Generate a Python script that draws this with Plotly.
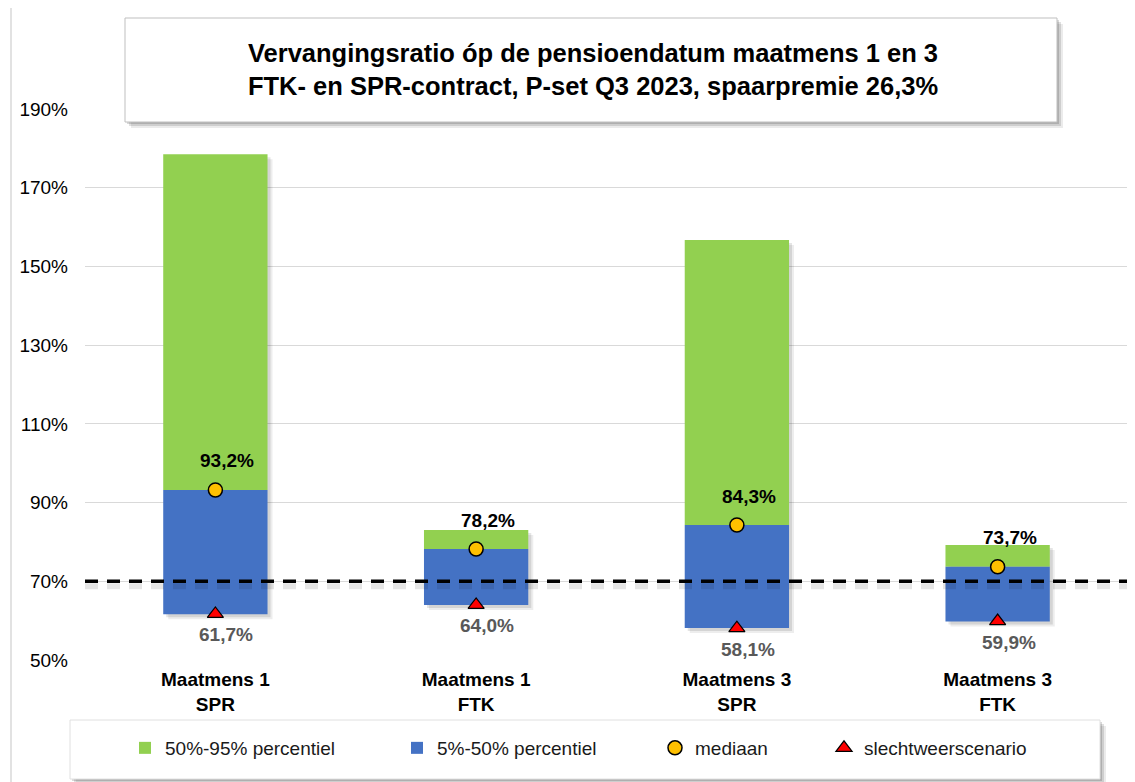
import plotly.graph_objects as go

# ---------------- data ----------------
categories = ["Maatmens 1<br>SPR", "Maatmens 1<br>FTK", "Maatmens 3<br>SPR", "Maatmens 3<br>FTK"]
p5 = [61.6, 64.0, 58.1, 59.8]          # 5% percentiel (bottom of blue)
median = [93.2, 78.2, 84.3, 73.7]      # mediaan
p95 = [178.5, 83.0, 156.7, 79.2]       # 95% percentiel (top of green)
worst = [61.7, 64.0, 58.1, 59.9]       # slechtweerscenario
target = 70.0
y_ticks = [50, 70, 90, 110, 130, 150, 170, 190]

title_text = ("<b>Vervangingsratio óp de pensioendatum maatmens 1 en 3<br>"
              "FTK- en SPR-contract, P-set Q3 2023, spaarpremie 26,3%</b>")

# ---------------- style ----------------
FONT = "Liberation Sans, Arial, sans-serif"
GREEN = "#92D050"
BLUE = "#4472C4"
YELLOW = "#FFC000"
RED = "#FF0000"

OFF = 8                      # page body margin
W, H = 1135, 782
# plot area in page pixels: left 85, top 109, bottom 660, right 1128
L = 85 - OFF
T = 109 - OFF
B = H - (660 - OFF)
R = W - (1128 - OFF)
PW = W - L - R
PH = H - T - B
YMIN, YMAX = 50, 190
PX_PER_UNIT = PH / (YMAX - YMIN)
CAT_PX = PW / 4.0
BW = 0.4


def px_x(px):
    """page x pixel -> paper x"""
    return (px - OFF - L) / PW


def px_y(py):
    """page y pixel -> paper y"""
    return (H - B - (py - OFF)) / PH


fig = go.Figure()

# soft drop shadows for the bars
for dx, dy, a in [(5, 5, 0.07), (3, 3, 0.10)]:
    fig.add_trace(go.Bar(
        x=categories, y=[t - b for t, b in zip(p95, p5)],
        base=[b - dy / PX_PER_UNIT for b in p5],
        width=BW, offset=-BW / 2 + dx / CAT_PX,
        marker=dict(color=f"rgba(0,0,0,{a})", line=dict(width=0)),
        showlegend=False, hoverinfo="skip"))

fig.add_trace(go.Bar(
    x=categories, y=[t - m for t, m in zip(p95, median)], base=median,
    width=BW, offset=-BW / 2, name="50%-95% percentiel",
    marker=dict(color=GREEN, line=dict(width=0)), legend="legend"))

fig.add_trace(go.Bar(
    x=categories, y=[m - b for m, b in zip(median, p5)], base=p5,
    width=BW, offset=-BW / 2, name="5%-50% percentiel",
    marker=dict(color=BLUE, line=dict(width=0)), legend="legend2"))

fig.add_trace(go.Scatter(
    x=categories, y=median, mode="markers", name="mediaan",
    marker=dict(symbol="circle", size=14, color=YELLOW, line=dict(color="#000000", width=1.5)),
    cliponaxis=False, legend="legend3"))

fig.add_trace(go.Scatter(
    x=categories, y=worst, mode="markers", name="slechtweerscenario",
    marker=dict(symbol="triangle-up", size=14, color=RED, line=dict(color="#000000", width=1.2)),
    cliponaxis=False, legend="legend4"))

# data labels
annotations = []
for c, m in zip(categories, median):
    annotations.append(dict(x=c, y=m, xref="x", yref="y", text=f"<b>{m:.1f}%</b>".replace(".", ","),
                            showarrow=False, yshift=29, xshift=12,
                            font=dict(family=FONT, size=19, color="#000000")))
for c, w in zip(categories, worst):
    annotations.append(dict(x=c, y=w, xref="x", yref="y", text=f"<b>{w:.1f}%</b>".replace(".", ","),
                            showarrow=False, yshift=-21, xshift=11,
                            font=dict(family=FONT, size=19, color="#595959")))

shapes = []
# target line shadow + dashed line
shapes.append(dict(type="line", xref="paper", yref="y", x0=0, x1=px_x(1140),
                   y0=target - 5 / PX_PER_UNIT, y1=target - 5 / PX_PER_UNIT,
                   line=dict(color="rgba(0,0,0,0.10)", width=6, dash="13px,9px"), layer="above"))
shapes.append(dict(type="line", xref="paper", yref="y", x0=0, x1=px_x(1140),
                   y0=target, y1=target,
                   line=dict(color="#000000", width=3.5, dash="13px,9px"), layer="above"))
# left chart border
shapes.append(dict(type="line", xref="paper", yref="paper", x0=px_x(11), x1=px_x(11),
                   y0=px_y(OFF), y1=px_y(H + OFF), line=dict(color="#D9D9D9", width=1.5), layer="above"))
# title box with shadow
for d, a in [(6, 0.08), (4, 0.12), (2, 0.15)]:
    shapes.append(dict(type="rect", xref="paper", yref="paper",
                       x0=px_x(125 + d), x1=px_x(1057 + d), y0=px_y(122 + d), y1=px_y(18 + d),
                       fillcolor=f"rgba(0,0,0,{a})", line=dict(width=0), layer="above"))
shapes.append(dict(type="rect", xref="paper", yref="paper",
                   x0=px_x(125), x1=px_x(1057), y0=px_y(122), y1=px_y(18),
                   fillcolor="#FFFFFF", line=dict(color="#BFBFBF", width=1), layer="above"))
# legend box with shadow
for d, a in [(6, 0.08), (4, 0.12), (2, 0.15)]:
    shapes.append(dict(type="rect", xref="paper", yref="paper",
                       x0=px_x(70 + d), x1=px_x(1100 + d), y0=px_y(779 + d), y1=px_y(720 + d),
                       fillcolor=f"rgba(0,0,0,{a})", line=dict(width=0), layer="above"))
shapes.append(dict(type="rect", xref="paper", yref="paper",
                   x0=px_x(70), x1=px_x(1100), y0=px_y(779), y1=px_y(720),
                   fillcolor="#FFFFFF", line=dict(color="#E0E0E0", width=1), layer="above"))

legend_common = dict(orientation="h", yanchor="middle", y=px_y(748), xanchor="left",
                     bgcolor="rgba(0,0,0,0)", borderwidth=0,
                     font=dict(family=FONT, size=19, color="#1A1A1A"))
sym_centers = [148, 420, 678, 847]

fig.update_layout(
    width=W, height=H,
    margin=dict(l=L, r=R, t=T, b=B, pad=0),
    paper_bgcolor="#FFFFFF", plot_bgcolor="#FFFFFF",
    barmode="overlay",
    font=dict(family=FONT, size=19, color="#000000"),
    title=dict(text=title_text, x=(593 - OFF) / W, xref="container", xanchor="center",
               y=1 - (62 - OFF) / H, yref="container", yanchor="middle",
               font=dict(family=FONT, size=25.5, color="#000000")),
    xaxis=dict(type="category", range=[-0.5, 3.5], showgrid=False, zeroline=False,
               showline=False, ticks="", ticklabelstandoff=6,
               tickfont=dict(family=FONT, size=19, color="#000000", weight="bold")),
    yaxis=dict(range=[YMIN, YMAX], tickvals=y_ticks, ticktext=[f"{v}%" for v in y_ticks],
               showgrid=True, gridcolor="#D9D9D9", gridwidth=1, zeroline=False,
               showline=False, ticks="", ticklabelstandoff=16,
               tickfont=dict(family=FONT, size=19, color="#000000")),
    legend=dict(legend_common, x=px_x(sym_centers[0] - 23)),
    legend2=dict(legend_common, x=px_x(sym_centers[1] - 23)),
    legend3=dict(legend_common, x=px_x(sym_centers[2] - 23)),
    legend4=dict(legend_common, x=px_x(sym_centers[3] - 23)),
    annotations=annotations,
    shapes=shapes,
)

fig.write_html("out.html")
